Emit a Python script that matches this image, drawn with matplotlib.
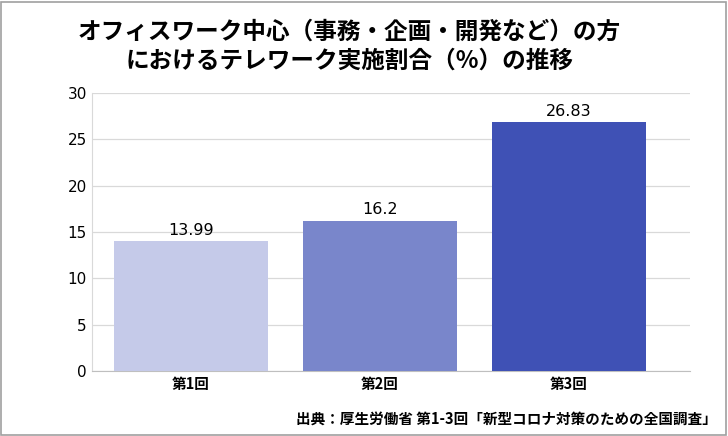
import matplotlib.pyplot as plt
from matplotlib.patches import Rectangle

plt.rcParams["font.family"] = "Noto Sans CJK JP"

categories = ["第1回", "第2回", "第3回"]
values = [13.99, 16.2, 26.83]
colors = ["#C5CAE9", "#7986CB", "#3F51B5"]
yticks = [0, 5, 10, 15, 20, 25, 30]

fig = plt.figure(figsize=(7.28, 4.36), dpi=100)
fig.patch.set_facecolor("white")
fig.patches.append(Rectangle((0.002, 0.003), 0.995, 0.993, transform=fig.transFigure,
                             fill=False, edgecolor="#A0A0A0", linewidth=1.2))

ax = fig.add_axes([0.126, 0.149, 0.822, 0.638])
x = range(len(categories))
ax.bar(x, values, width=0.815, color=colors, zorder=3)
for xi, v in zip(x, values):
    ax.text(xi, v + 0.4, f"{v:g}", ha="center", va="bottom", fontsize=11.5, family="DejaVu Sans")

ax.set_ylim(0, 30)
ax.set_xlim(-0.524, 2.64)
ax.set_yticks(yticks)
ax.set_yticklabels([str(t) for t in yticks], fontsize=11, family="DejaVu Sans")
ax.set_xticks(list(x))
ax.set_xticklabels(categories, fontsize=10.5, fontweight="bold")
ax.tick_params(length=0)
ax.grid(axis="y", color="#D9D9D9", linewidth=0.9, zorder=0)
for s in ["top", "right"]:
    ax.spines[s].set_visible(False)
ax.spines["left"].set_color("#D9D9D9")
ax.spines["bottom"].set_color("#BFBFBF")

fig.text(0.48, 0.895, "オフィスワーク中心（事務・企画・開発など）の方\nにおけるテレワーク実施割合（%）の推移",
         ha="center", va="center", fontsize=17, fontweight="bold", linespacing=1.25)
fig.text(0.985, 0.04, "出典：厚生労働省 第1-3回「新型コロナ対策のための全国調査」",
         ha="right", va="center", fontsize=10.5, fontweight="bold")

fig.savefig("out.png", dpi=100)
